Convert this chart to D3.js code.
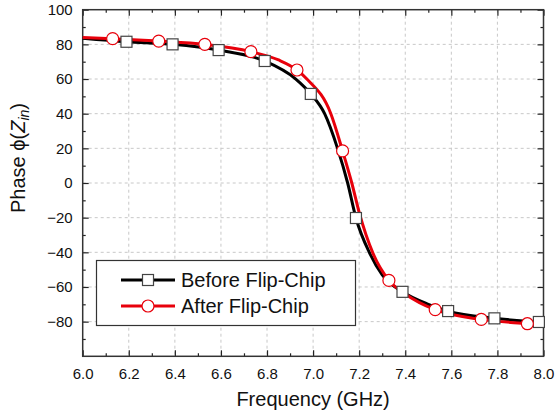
<!DOCTYPE html>
<html>
  <head>
    <meta charset="utf-8" />
    <title>Phase of Zin before / after flip-chip</title>
    <script src="https://d3js.org/d3.v7.min.js"></script>
    <style>
      body { margin: 0; background: #fff; }
      svg text { font-family: "Liberation Sans", Arial, Helvetica, sans-serif; fill: #111; }
      .grid line { stroke: #c8c8c8; stroke-dasharray: 3,3; stroke-width: 1; }
      .axis path { display: none; }
      .axis line { stroke: #222; stroke-width: 1.2; }
    </style>
  </head>
  <body>
    <svg width="556" height="417"></svg>
    <script>
      // curve values (GHz, degrees)
      const freqBefore = [6.0, 6.19, 6.39, 6.59, 6.79, 6.925, 6.99, 7.05, 7.106, 7.15, 7.186, 7.246, 7.3, 7.388, 7.5, 7.586, 7.787, 7.98, 8.0];
      const phaseBefore = [83.5, 81.5, 80.0, 76.7, 70.4, 60.0, 51.4, 40.0, 20.0, 0.0, -20.2, -40.6, -53.0, -62.8, -70.0, -73.9, -78.1, -80.2, -80.4];
      const freqAfter = [6.0, 6.13, 6.33, 6.53, 6.73, 6.85, 6.93, 6.973, 7.077, 7.128, 7.168, 7.2, 7.26, 7.329, 7.4, 7.53, 7.73, 7.93, 8.0];
      const phaseAfter = [84.0, 83.3, 81.9, 80.0, 75.8, 71.0, 65.2, 60.0, 40.0, 18.5, 0.0, -17.0, -40.6, -56.2, -64.0, -73.1, -78.7, -81.2, -82.0];

      // symbol positions
      const markFreqBefore = [6.19, 6.39, 6.59, 6.79, 6.99, 7.186, 7.388, 7.586, 7.787, 7.98];
      const markPhaseBefore = [81.5, 80.0, 76.7, 70.4, 51.4, -20.2, -62.8, -73.9, -78.1, -80.2];
      const markFreqAfter = [6.13, 6.33, 6.53, 6.73, 6.93, 7.128, 7.329, 7.53, 7.73, 7.93];
      const markPhaseAfter = [83.3, 81.9, 80.0, 75.8, 65.2, 18.5, -56.2, -73.1, -78.7, -81.2];

      const xTicks = [6.0, 6.2, 6.4, 6.6, 6.8, 7.0, 7.2, 7.4, 7.6, 7.8, 8.0];
      const yTicks = [-80, -60, -40, -20, 0, 20, 40, 60, 80, 100];
      const xMinor = d3.range(61, 80, 2).map((d) => d / 10);
      const yMinor = d3.range(-90, 100, 20);
      const seriesNames = ["Before Flip-Chip", "After Flip-Chip"];

      const svg = d3.select("svg");
      const pl = 82.7, pr = 543.5, pt = 9.7, pb = 356.3;

      const x = d3.scaleLinear().domain([6, 8]).range([pl, pr]);
      const y = d3.scaleLinear().domain([-100, 100]).range([pb, pt]);

      // grid
      const grid = svg.append("g").attr("class", "grid");
      grid.selectAll(".gx").data(xTicks.slice(1, -1)).join("line")
        .attr("x1", (d) => x(d)).attr("x2", (d) => x(d))
        .attr("y1", pt).attr("y2", pb);
      grid.selectAll(".gy").data(yTicks.filter((d) => d > -100 && d < 100)).join("line")
        .attr("x1", pl).attr("x2", pr)
        .attr("y1", (d) => y(d)).attr("y2", (d) => y(d));

      // axes: ticks pointing inward, on all four sides
      const fmtX = d3.format(".1f");
      svg.append("g").attr("class", "axis").attr("transform", `translate(0,${pb})`)
        .call(d3.axisBottom(x).tickValues(xTicks).tickSize(-6).tickPadding(12).tickFormat(fmtX))
        .call((g) => g.selectAll("text").attr("font-size", 15));
      svg.append("g").attr("class", "axis").attr("transform", `translate(0,${pb})`)
        .call(d3.axisBottom(x).tickValues(xMinor).tickSize(-3).tickFormat(""));
      svg.append("g").attr("class", "axis").attr("transform", `translate(0,${pt})`)
        .call(d3.axisTop(x).tickValues(xTicks).tickSize(-6).tickFormat(""));
      svg.append("g").attr("class", "axis").attr("transform", `translate(0,${pt})`)
        .call(d3.axisTop(x).tickValues(xMinor).tickSize(-3).tickFormat(""));

      svg.append("g").attr("class", "axis").attr("transform", `translate(${pl},0)`)
        .call(d3.axisLeft(y).tickValues(yTicks).tickSize(-6).tickPadding(10))
        .call((g) => g.selectAll("text").attr("font-size", 15));
      svg.append("g").attr("class", "axis").attr("transform", `translate(${pl},0)`)
        .call(d3.axisLeft(y).tickValues(yMinor).tickSize(-3).tickFormat(""));
      svg.append("g").attr("class", "axis").attr("transform", `translate(${pr},0)`)
        .call(d3.axisRight(y).tickValues(yTicks).tickSize(-6).tickFormat(""));
      svg.append("g").attr("class", "axis").attr("transform", `translate(${pr},0)`)
        .call(d3.axisRight(y).tickValues(yMinor).tickSize(-3).tickFormat(""));

      // frame
      svg.append("rect")
        .attr("x", pl).attr("y", pt)
        .attr("width", pr - pl).attr("height", pb - pt)
        .attr("fill", "none").attr("stroke", "#333").attr("stroke-width", 1.5);

      // curves
      const line = d3.line()
        .x((d) => x(d[0]))
        .y((d) => y(d[1]))
        .curve(d3.curveMonotoneX);

      const before = d3.zip(freqBefore, phaseBefore);
      const after = d3.zip(freqAfter, phaseAfter);

      svg.append("path").datum(before)
        .attr("fill", "none").attr("stroke", "#000").attr("stroke-width", 3)
        .attr("d", line);
      svg.append("path").datum(after)
        .attr("fill", "none").attr("stroke", "#e8000b").attr("stroke-width", 3)
        .attr("d", line);

      // symbols
      const sq = 11;
      svg.append("g").selectAll("rect").data(d3.zip(markFreqBefore, markPhaseBefore)).join("rect")
        .attr("x", (d) => x(d[0]) - sq / 2).attr("y", (d) => y(d[1]) - sq / 2)
        .attr("width", sq).attr("height", sq)
        .attr("fill", "#fff").attr("stroke", "#444").attr("stroke-width", 1.2);
      svg.append("g").selectAll("circle").data(d3.zip(markFreqAfter, markPhaseAfter)).join("circle")
        .attr("cx", (d) => x(d[0])).attr("cy", (d) => y(d[1]))
        .attr("r", 6)
        .attr("fill", "#fff").attr("stroke", "#e8000b").attr("stroke-width", 1.2);

      // legend
      const legend = svg.append("g");
      legend.append("rect")
        .attr("x", 96.5).attr("y", 260.5).attr("width", 259).attr("height", 65)
        .attr("fill", "#fff").attr("stroke", "#333").attr("stroke-width", 1.2);
      const rows = [280, 306];
      seriesNames.forEach((name, i) => {
        const cy = rows[i];
        const col = i === 0 ? "#000" : "#e8000b";
        legend.append("line").attr("x1", 121).attr("x2", 175).attr("y1", cy).attr("y2", cy)
          .attr("stroke", col).attr("stroke-width", 3);
        if (i === 0) {
          legend.append("rect").attr("x", 148 - sq / 2).attr("y", cy - sq / 2)
            .attr("width", sq).attr("height", sq)
            .attr("fill", "#fff").attr("stroke", "#444").attr("stroke-width", 1.2);
        } else {
          legend.append("circle").attr("cx", 148).attr("cy", cy).attr("r", 6)
            .attr("fill", "#fff").attr("stroke", "#e8000b").attr("stroke-width", 1.2);
        }
        legend.append("text").attr("x", 181).attr("y", cy + 7)
          .attr("font-size", 20).text(name);
      });

      // axis titles
      svg.append("text")
        .attr("x", (pl + pr) / 2).attr("y", 406)
        .attr("text-anchor", "middle").attr("font-size", 20)
        .text("Frequency (GHz)");

      const yt = svg.append("text")
        .attr("transform", "translate(25,158) rotate(-90)")
        .attr("text-anchor", "middle").attr("font-size", 20);
      yt.append("tspan").text("Phase \u03d5(");
      yt.append("tspan").attr("font-style", "italic").text("Z");
      yt.append("tspan").attr("font-style", "italic").attr("font-size", 14).attr("dy", 4).text("in");
      yt.append("tspan").attr("dy", -4).text(")");
    </script>
  </body>
</html>
